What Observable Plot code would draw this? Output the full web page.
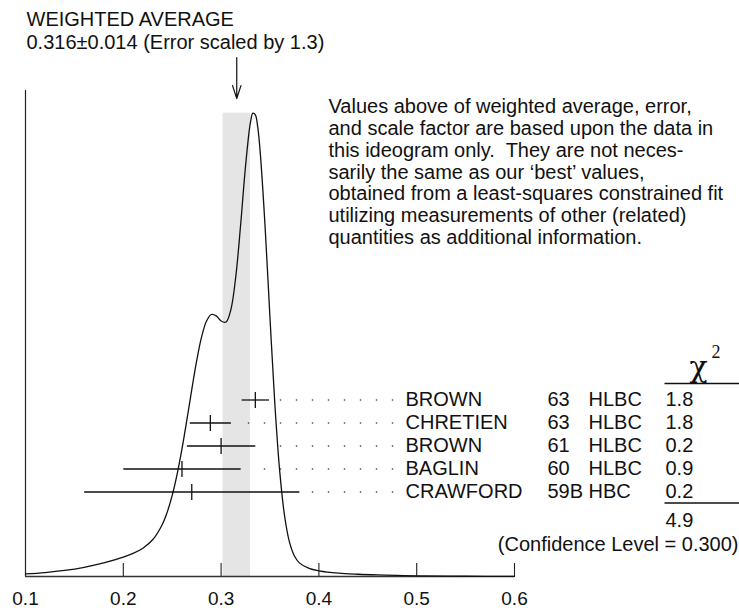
<!DOCTYPE html>
<html><head><meta charset="utf-8">
<script src="https://cdn.jsdelivr.net/npm/d3@7"></script>
<script src="https://cdn.jsdelivr.net/npm/@observablehq/plot@0.6"></script>
<style>html,body{margin:0;padding:0;background:#fff}</style>
</head><body><div id="chart"></div>
<script>
// ---- data ----
const authors = ["BROWN", "CHRETIEN", "BROWN", "BAGLIN", "CRAWFORD"];
const years = ["63", "63", "61", "60", "59B"];
const techniques = ["HLBC", "HLBC", "HLBC", "HLBC", "HBC"];
const values = [0.335, 0.289, 0.300, 0.260, 0.270];
const errors = [0.014, 0.021, 0.035, 0.060, 0.110];
const chi2 = ["1.8", "1.8", "0.2", "0.9", "0.2"];
const chi2Total = "4.9";
const confidenceLevel = "0.300";
const average = 0.316, averageError = 0.014, errorScale = 1.3;
const xTicks = [0.1, 0.2, 0.3, 0.4, 0.5, 0.6];
const curveX = [0.10,0.12,0.14,0.16,0.18,0.20,0.21,0.22,0.23,0.24,0.245,0.25,0.255,0.26,0.265,0.27,0.275,0.28,0.285,0.29,0.295,0.30,0.305,0.31,0.315,0.32,0.325,0.33,0.3325,0.335,0.3375,0.34,0.345,0.35,0.355,0.36,0.365,0.37,0.375,0.38,0.39,0.40,0.42,0.44,0.46,0.48,0.50,0.55,0.60];
const curveY = [33,51,79,120,176,251,300,368,477,680,840,1054,1328,1659,2035,2429,2801,3110,3317,3405,3387,3320,3307,3469,3896,4574,5335,5902,6022,6000,5837,5512,4543,3356,2233,1360,780,443,266,177,105,74,43,29,20,14,9,3,1];
const titleLines = ["WEIGHTED AVERAGE"];
const noteLines = [
  "Values above of weighted average, error,",
  "and scale factor are based upon the data in",
  "this ideogram only.  They are not neces-",
  "sarily the same as our \u2018best\u2019 values,",
  "obtained from a least-squares constrained fit",
  "utilizing measurements of other (related)",
  "quantities as additional information."
];

// ---- layout ----
const W = 739, H = 608;
const PL = 25, PR = 514, PT = 90, PB = 576;
const yMax = 6316;
const px2x = px => 0.1 + (px - PL) / (PR - PL) * 0.5;
const py2y = py => yMax * (PB - py) / (PB - PT);
const x2px = v => PL + (v - 0.1) / 0.5 * (PR - PL);
const rowPy = i => 399.5 + 23 * i;

const curvePts = curveX.map((x, i) => ({x, y: curveY[i]}));
const rows = authors.map((a, i) => ({
  author: a, year: years[i], tech: techniques[i], value: values[i], error: errors[i], chi2: chi2[i],
  y: py2y(rowPy(i)), yLo: py2y(rowPy(i) + 8), yHi: py2y(rowPy(i) - 8)
}));
const dots = [];
rows.forEach((r) => {
  const end = x2px(r.value + r.error);
  for (let px = 392; px > end + 10; px -= 16) dots.push({x: px2x(px), y: r.y});
});

const FONT = "Liberation Sans, Arial, Helvetica, sans-serif";
const SERIF = "DejaVu Serif, Liberation Serif, serif";
const ink = "#111";
const label = (text, px, py, o = {}) => Plot.text([text], {
  frameAnchor: "top-left", dx: px - PL, dy: py - PT, lineAnchor: "bottom",
  textAnchor: "start", fontSize: 20, fill: ink, ...o
});

const title = [...titleLines, `${average.toFixed(3)}\u00b1${averageError.toFixed(3)} (Error scaled by ${errorScale})`].join("\n");

const chart = Plot.plot({
  width: W, height: H,
  marginLeft: PL, marginRight: W - PR, marginTop: PT, marginBottom: H - PB,
  x: {domain: [0.1, 0.6], axis: null},
  y: {domain: [0, yMax], axis: null},
  style: {fontFamily: FONT, background: "#fff", overflow: "visible"},
  marks: [
    Plot.rect([0], {x1: average - averageError, x2: average + averageError, y1: 0, y2: d3.max(curveY), fill: "#e5e5e5"}),
    Plot.ruleY([0], {stroke: "#333", strokeWidth: 1.4}),
    Plot.ruleX([0.1], {y1: 0, y2: yMax, stroke: "#222", strokeWidth: 1.2}),
    Plot.ruleX(xTicks.slice(1), {y1: 0, y2: py2y(563), stroke: "#222", strokeWidth: 1.1}),
    Plot.text(xTicks, {x: d => d, y: 0, dy: 22, text: d => d.toFixed(1), fontSize: 19, fill: ink}),
    Plot.line(curvePts, {x: "x", y: "y", curve: "catmull-rom", stroke: ink, strokeWidth: 1.3}),
    Plot.arrow([0], {x1: average, x2: average, y1: py2y(57), y2: py2y(98), stroke: ink, strokeWidth: 1.2, headLength: 17, headAngle: 36}),
    Plot.link(rows, {x1: d => d.value - d.error, x2: d => d.value + d.error, y1: "y", y2: "y", stroke: ink, strokeWidth: 1.3}),
    Plot.link(rows, {x1: "value", x2: "value", y1: "yLo", y2: "yHi", stroke: ink, strokeWidth: 1.3}),
    Plot.dot(dots, {x: "x", y: "y", r: 0.8, fill: "#333", stroke: null}),
    Plot.text(rows, {x: px2x(405), y: "y", text: "author", textAnchor: "start", fontSize: 20, fill: ink}),
    Plot.text(rows, {x: px2x(547), y: "y", text: "year", textAnchor: "start", fontSize: 20, fill: ink}),
    Plot.text(rows, {x: px2x(588), y: "y", text: "tech", textAnchor: "start", fontSize: 20, fill: ink}),
    Plot.text(rows, {x: px2x(665), y: "y", text: "chi2", textAnchor: "start", fontSize: 20, fill: ink}),
    Plot.link([0], {x1: px2x(664), x2: px2x(739), y1: py2y(383), y2: py2y(383), stroke: ink, strokeWidth: 1.3}),
    Plot.link([0], {x1: px2x(664), x2: px2x(739), y1: py2y(502.5), y2: py2y(502.5), stroke: ink, strokeWidth: 1.3}),
    label("\u03c7", 689, 376, {fontSize: 30, fontFamily: SERIF}),
    label("2", 711, 357, {fontSize: 18, fontFamily: "Liberation Serif, serif"}),
    label(chi2Total, 665, 526),
    label(`(Confidence Level = ${confidenceLevel})`, 738, 550, {textAnchor: "end"}),
    Plot.text([title], {frameAnchor: "top-left", dx: 26 - PL, dy: 9.8 - PT, lineAnchor: "top", textAnchor: "start", lineHeight: 1.13, fontSize: 20, fill: ink}),
    Plot.text([noteLines.join("\n")], {frameAnchor: "top-left", dx: 328 - PL, dy: 97.5 - PT, lineAnchor: "top", textAnchor: "start", lineHeight: 1.085, fontSize: 20, fill: ink})
  ]
});
document.getElementById("chart").appendChild(chart);
</script>
</body></html>
